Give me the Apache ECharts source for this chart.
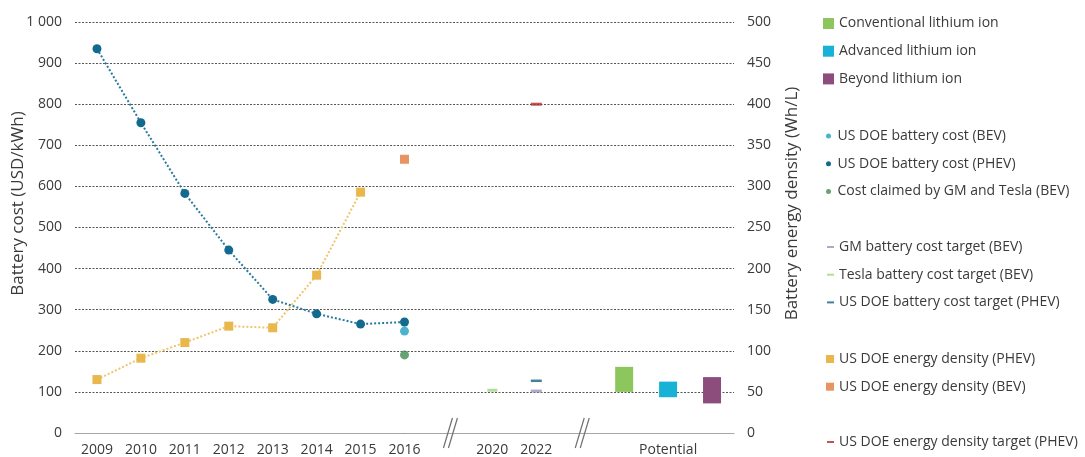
<!DOCTYPE html>
<html>
<head>
<meta charset="utf-8">
<script src="https://cdn.jsdelivr.net/npm/echarts@6/dist/echarts.min.js"></script>
<style>html,body{margin:0;padding:0;background:#fff}#c{width:1085px;height:457px}</style>
</head>
<body>
<div id="c"></div>
<script>
// ---- data ----
const categories = ['2009','2010','2011','2012','2013','2014','2015','2016','brk1','2020','2022','brk2','pot1','Potential','pot3'];
const tickLabels = ['2009','2010','2011','2012','2013','2014','2015','2016','','2020','2022','','','Potential',''];
const breakCats = ['brk1','brk2'];

const costYears = ['2009','2010','2011','2012','2013','2014','2015','2016'];
const doeCostPhev = [935, 755, 583, 445, 325, 290, 265, 270];
const doeCostBev = [['2016', 248]];
const gmTeslaCost = [['2016', 190]];

const densityYears = ['2009','2010','2011','2012','2013','2014','2015'];
const doeDensityPhev = [65, 91, 110, 130, 128, 192, 293];
const doeDensityBev = [['2016', 333]];
const doeDensityTarget = [['2022', 400]];

const gmCostTarget = [['2022', 102]];
const teslaCostTarget = [['2020', 104]];
const doeCostTargetPhev = [['2022', 127]];

const potentialCats = ['pot1','Potential','pot3'];
const potentialLow = [100, 87, 72];
const potentialHigh = [161, 125, 136];

const leftTicks = {min: 0, max: 1000, interval: 100};
const rightTicks = {min: 0, max: 500, interval: 50};

// ---- build ----
const FONT = 'Open Sans';
const TXT = '#3a3a3a';
function pairs(xs, ys){ return xs.map((x,i)=>[x, ys[i]]); }
function onlyAt(cat, v){ return categories.map(c => c === cat ? v : '-'); }
const baseData = categories.map(c => { const i = potentialCats.indexOf(c); return i >= 0 ? potentialLow[i] : '-'; });
const spanOf = i => potentialHigh[i] - potentialLow[i];

const legendText = {color: TXT, fontFamily: FONT, fontSize: 14, lineHeight: 16};
function legendGroup(top, left, names, icon, w, h){
  return {orient:'vertical', left, top, padding: 0, itemGap: 11.7, itemWidth: w, itemHeight: h,
    icon, data: names, textStyle: legendText, selectedMode: false};
}

const option = {
  animation: false,
  grid: {left: 75, right: 351, top: 22, bottom: 24, containLabel: false, outerBoundsMode: 'none'},
  legend: [
    legendGroup(15.5, 823, ['Conventional lithium ion','Advanced lithium ion','Beyond lithium ion'], 'rect', 11, 11),
    legendGroup(128, 826, ['US DOE battery cost (BEV)','US DOE battery cost (PHEV)','Cost claimed by GM and Tesla (BEV)'], 'circle', 8, 5),
    legendGroup(239, 827, ['GM battery cost target (BEV)','Tesla battery cost target (BEV)','US DOE battery cost target (PHEV)'], 'rect', 7, 2),
    legendGroup(351, 826, ['US DOE energy density (PHEV)','US DOE energy density (BEV)'], 'rect', 8, 8),
    legendGroup(434, 827, ['US DOE energy density target (PHEV)'], 'rect', 7, 2)
  ],
  xAxis: {
    type: 'category', data: categories, boundaryGap: true,
    axisLine: {lineStyle: {color: '#a6a6a6', width: 1}},
    axisTick: {show: false},
    axisLabel: {interval: 0, margin: 10, color: TXT, fontFamily: FONT, fontSize: 14,
      formatter: (v, i) => tickLabels[i]}
  },
  yAxis: [
    {type: 'value', ...leftTicks, position: 'left',
      name: 'Battery cost (USD/kWh)', nameLocation: 'middle', nameGap: 48, nameMoveOverlap: false,
      nameTextStyle: {color: TXT, fontFamily: FONT, fontSize: 17, padding: [0,0,0,48]},
      axisLine: {show: false}, axisTick: {show: false},
      axisLabel: {margin: 13, color: TXT, fontFamily: FONT, fontSize: 14,
        formatter: v => v >= 1000 ? String(v).replace(/\B(?=(\d{3})+(?!\d))/g, ' ') : String(v)},
      splitLine: {lineStyle: {color: '#555', type: [2, 1.5], width: 1}}
    },
    {type: 'value', ...rightTicks, position: 'right',
      name: 'Battery energy density (Wh/L)', nameLocation: 'middle', nameGap: 50, nameMoveOverlap: false,
      nameTextStyle: {color: TXT, fontFamily: FONT, fontSize: 17, padding: [0,0,0,48]},
      axisLine: {show: false}, axisTick: {show: false},
      axisLabel: {margin: 13, color: TXT, fontFamily: FONT, fontSize: 14},
      splitLine: {show: false}
    }
  ],
  series: [
    {name: 'potBase', type: 'bar', stack: 'pot', data: baseData, barWidth: 18,
      itemStyle: {color: 'transparent'}, silent: true},
    {name: 'Conventional lithium ion', type: 'bar', stack: 'pot', data: onlyAt(potentialCats[0], spanOf(0)), itemStyle: {color: '#8cc65c'}},
    {name: 'Advanced lithium ion', type: 'bar', stack: 'pot', data: onlyAt(potentialCats[1], spanOf(1)), itemStyle: {color: '#17b2d6'}},
    {name: 'Beyond lithium ion', type: 'bar', stack: 'pot', data: onlyAt(potentialCats[2], spanOf(2)), itemStyle: {color: '#8c4d7d'}},

    {name: 'US DOE battery cost (PHEV)', type: 'line', data: pairs(costYears, doeCostPhev),
      symbol: 'circle', symbolSize: 9, itemStyle: {color: '#136a8f'},
      lineStyle: {color: '#2a7aa0', type: 'dotted', width: 2}, z: 3},
    {name: 'US DOE battery cost (BEV)', type: 'scatter', data: doeCostBev, symbol: 'circle', symbolSize: 9, itemStyle: {color: '#1ea0c0'}},
    {name: 'Cost claimed by GM and Tesla (BEV)', type: 'scatter', data: gmTeslaCost, symbol: 'circle', symbolSize: 9, itemStyle: {color: '#3f8c52'}},

    {name: 'GM battery cost target (BEV)', type: 'scatter', data: gmCostTarget, symbol: 'rect', symbolSize: [11, 3], itemStyle: {color: '#9b92bd'}},
    {name: 'Tesla battery cost target (BEV)', type: 'scatter', data: teslaCostTarget, symbol: 'rect', symbolSize: [10, 3], itemStyle: {color: '#9fd585'}},
    {name: 'US DOE battery cost target (PHEV)', type: 'scatter', data: doeCostTargetPhev, symbol: 'rect', symbolSize: [11, 2.5], itemStyle: {color: '#15607f'}},

    {name: 'US DOE energy density (PHEV)', type: 'line', yAxisIndex: 1, data: pairs(densityYears, doeDensityPhev),
      symbol: 'rect', symbolSize: 9, itemStyle: {color: '#e9b74c'},
      lineStyle: {color: '#efc56a', type: 'dotted', width: 2}, z: 3},
    {name: 'US DOE energy density (BEV)', type: 'scatter', yAxisIndex: 1, data: doeDensityBev, symbol: 'rect', symbolSize: 9, itemStyle: {color: '#e07a3b'}},
    {name: 'US DOE energy density target (PHEV)', type: 'scatter', yAxisIndex: 1, data: doeDensityTarget, symbol: 'rect', symbolSize: [11, 3], itemStyle: {color: '#b02a2a'}},

    {name: 'axisBreaks', type: 'custom', data: breakCats.map(c => [c, 0]), clip: false, silent: true, z: 5,
      renderItem: (params, api) => {
        const p = api.coord([api.value(0), 0]);
        const mk = (dx1, dx2) => ({type: 'line', shape: {x1: p[0] + dx1, y1: p[1] + 15, x2: p[0] + dx2, y2: p[1] - 15},
          style: {stroke: '#707070', lineWidth: 1.2}});
        return {type: 'group', children: [mk(-5, 4), mk(0, 9)]};
      }}
  ]
};
const chart = echarts.init(document.getElementById('c'), null, {renderer: 'canvas'});
chart.setOption(option);
</script>
</body>
</html>
